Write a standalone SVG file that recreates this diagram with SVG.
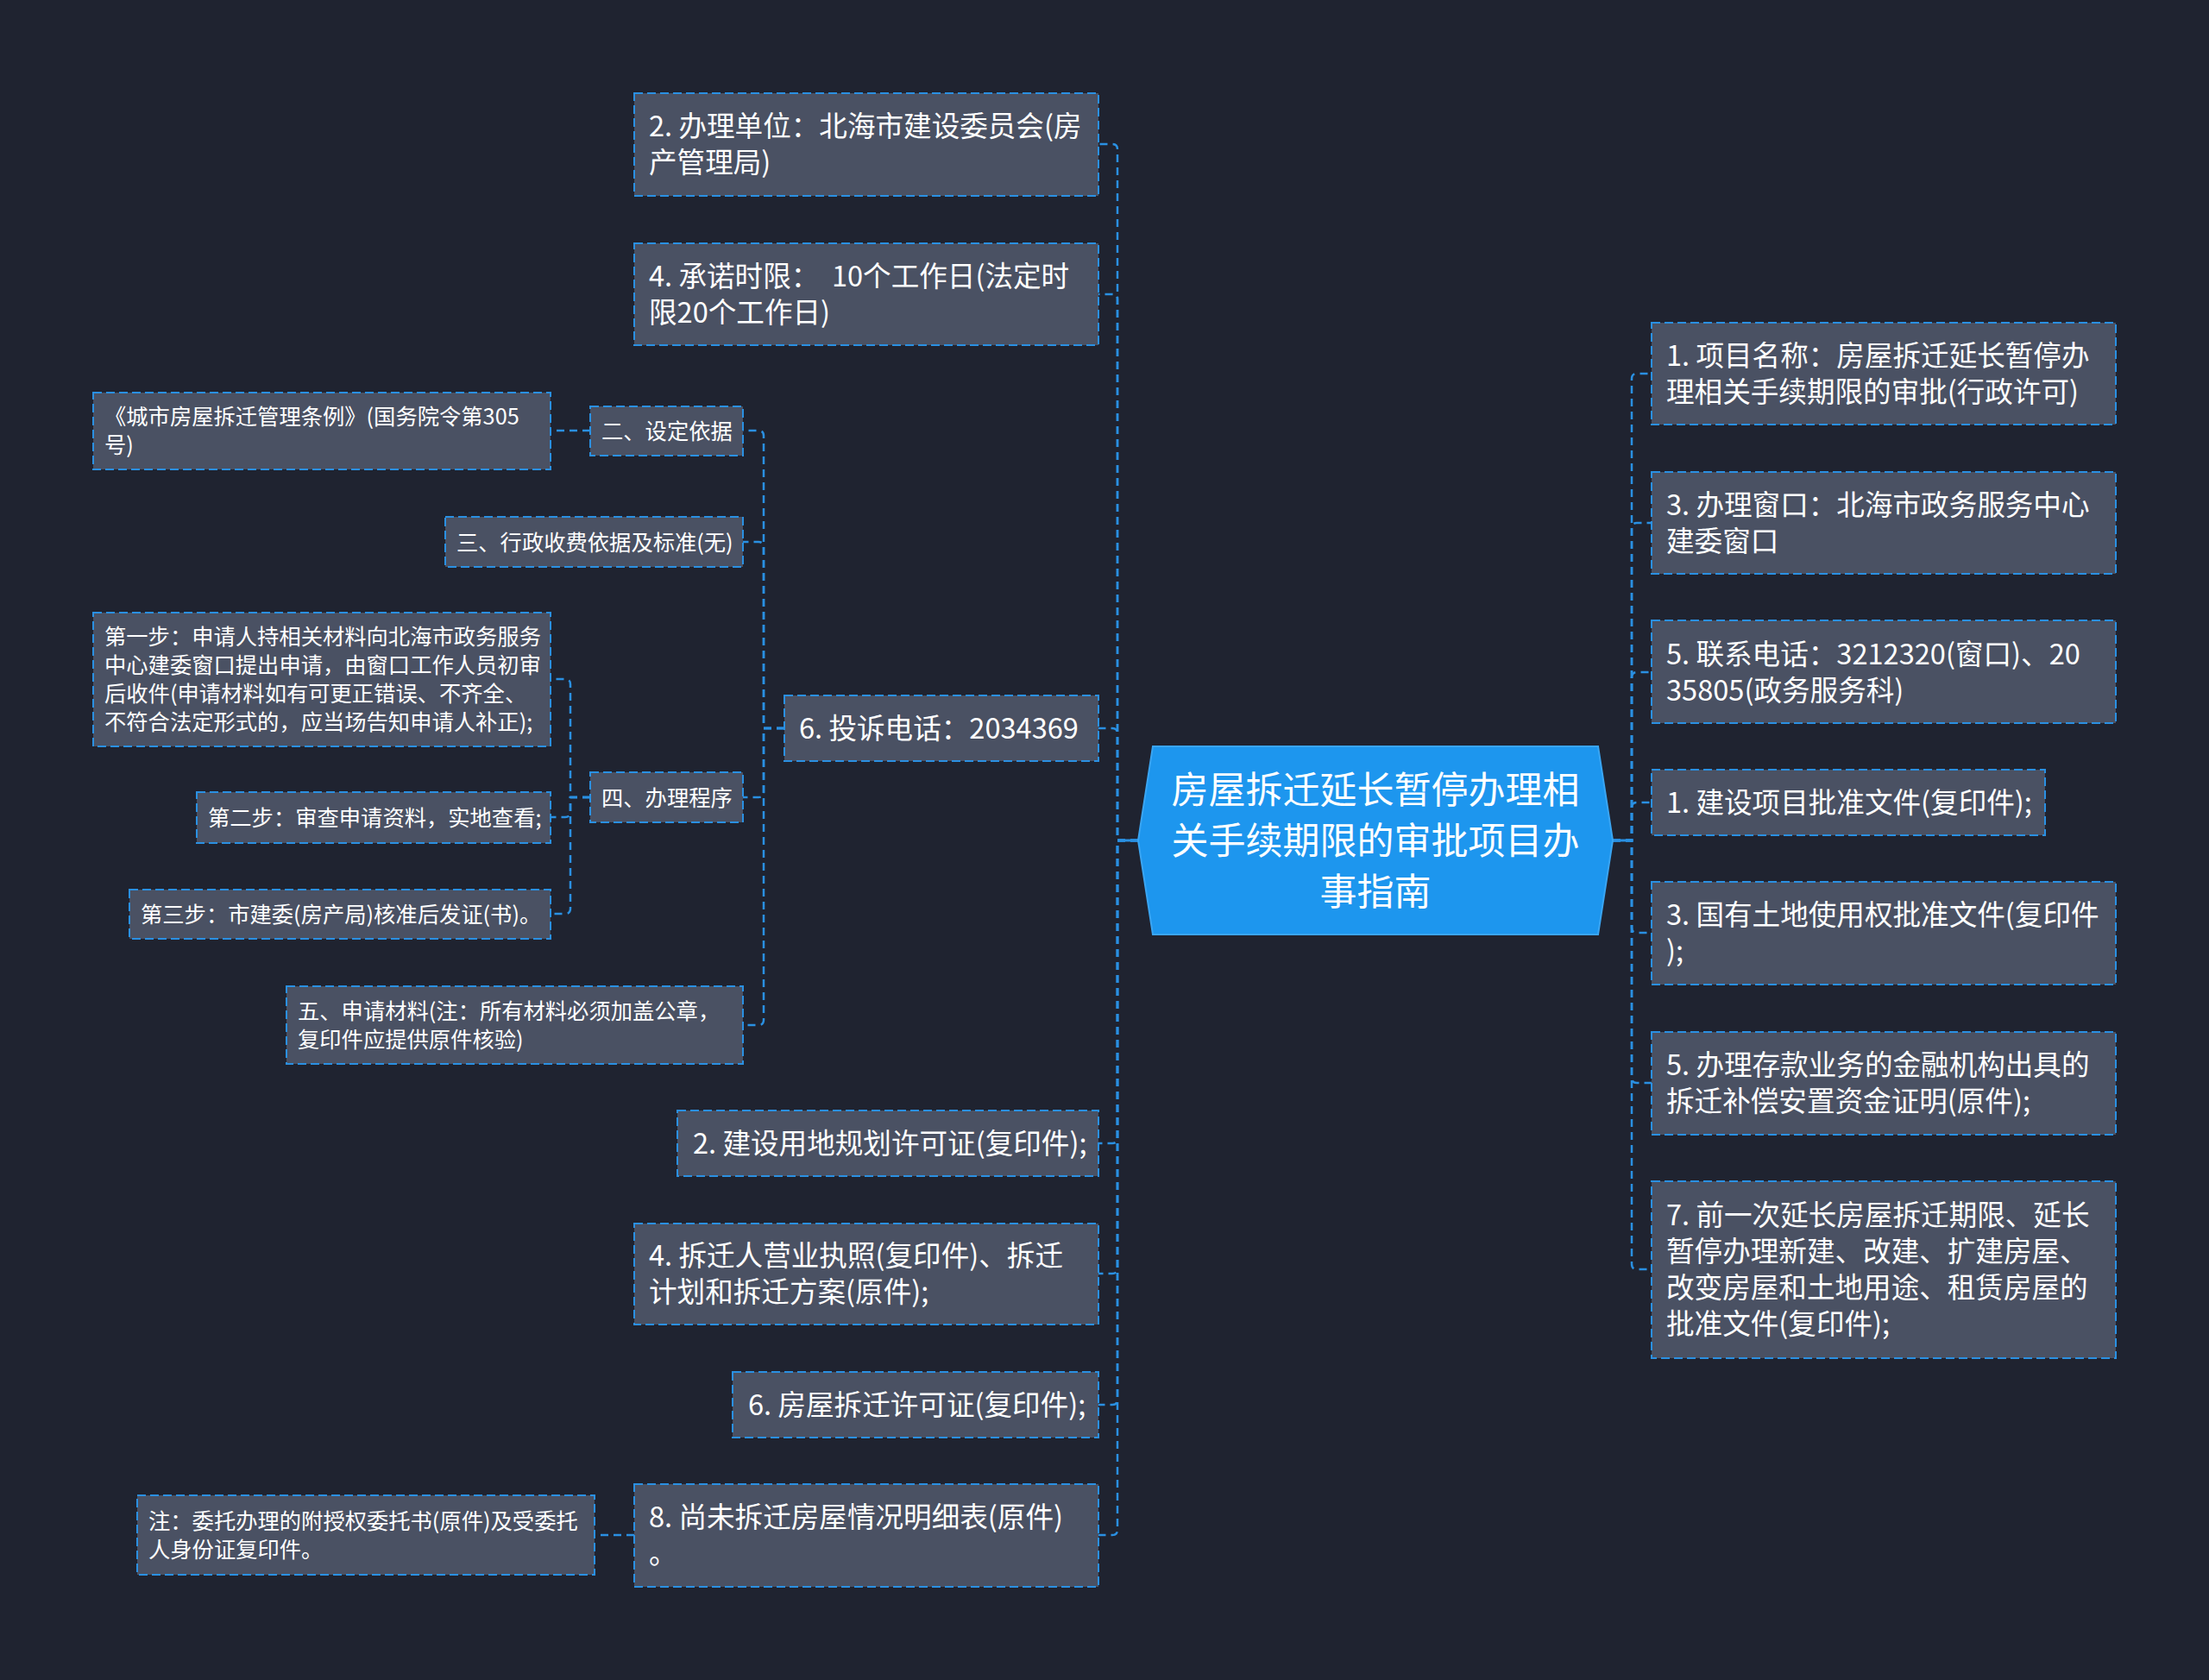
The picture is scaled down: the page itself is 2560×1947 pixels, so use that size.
<svg xmlns="http://www.w3.org/2000/svg" width="2560" height="1947" viewBox="0 0 2560 1947">
<style>
.bg{fill:#1f2330}
.box{fill:#4a5163;stroke:#2a90e2;stroke-width:2;stroke-dasharray:10 5}
.t{font-family:"Noto Sans CJK SC","Noto Sans",sans-serif;fill:#ffffff}
.big{font-size:32.6px}
.sm{font-size:25.3px}
.root{fill:#1d96ee;stroke:#3aa5f2;stroke-width:2}
.rt{font-family:"Noto Sans CJK SC","Noto Sans",sans-serif;fill:#ffffff;font-size:43px;text-anchor:middle}
.edge{fill:none;stroke:#2a90e2;stroke-width:2.5;stroke-dasharray:9 6}
.stem{fill:none;stroke:#2a90e2;stroke-width:3}
</style>
<rect class="bg" x="0" y="0" width="2560" height="1947"/>

<g id="connectors">
  <!-- root left spine -->
  <path class="edge" d="M1319,974 H1295 V173 Q1295,167 1289,167 H1273"/>
  <path class="edge" d="M1319,974 H1295 V347 Q1295,341 1289,341 H1273"/>
  <path class="edge" d="M1319,974 H1295 V850 Q1295,844 1289,844 H1273"/>
  <path class="edge" d="M1319,974 H1295 V1319 Q1295,1325 1289,1325 H1273"/>
  <path class="edge" d="M1319,974 H1295 V1470 Q1295,1476 1289,1476 H1273"/>
  <path class="edge" d="M1319,974 H1295 V1622 Q1295,1628 1289,1628 H1273"/>
  <path class="edge" d="M1319,974 H1295 V1773 Q1295,1779 1289,1779 H1273"/>
  <path class="stem" d="M1319,974 H1296"/>
  <!-- root right spine -->
  <path class="edge" d="M1869,974 H1891 V439 Q1891,433 1897,433 H1914"/>
  <path class="edge" d="M1869,974 H1891 V612 Q1891,606 1897,606 H1914"/>
  <path class="edge" d="M1869,974 H1891 V785 Q1891,779 1897,779 H1914"/>
  <path class="edge" d="M1869,974 H1891 V936 Q1891,930 1897,930 H1914"/>
  <path class="edge" d="M1869,974 H1891 V1075 Q1891,1081 1897,1081 H1914"/>
  <path class="edge" d="M1869,974 H1891 V1249 Q1891,1255 1897,1255 H1914"/>
  <path class="edge" d="M1869,974 H1891 V1465 Q1891,1471 1897,1471 H1914"/>
  <path class="stem" d="M1869,974 H1890"/>
  <!-- 6. 投诉电话 children -->
  <path class="edge" d="M909,844 H885 V505 Q885,499 879,499 H861"/>
  <path class="edge" d="M909,844 H885 V634 Q885,628 879,628 H861"/>
  <path class="edge" d="M909,844 H885 V918 Q885,924 879,924 H861"/>
  <path class="edge" d="M909,844 H885 V1182 Q885,1188 879,1188 H861"/>
  <!-- 二 -> 条例 -->
  <path class="edge" d="M684,499 H638"/>
  <!-- 四 children -->
  <path class="edge" d="M684,924 H661 V793 Q661,787 655,787 H638"/>
  <path class="edge" d="M684,924 H661 V941 Q661,947 655,947 H638"/>
  <path class="edge" d="M684,924 H661 V1053 Q661,1059 655,1059 H638"/>
  <!-- 8 -> 注 -->
  <path class="edge" d="M735,1779 H689"/>
</g>

<g id="root">
  <polygon class="root" points="1336,865 1852,865 1869,974 1852,1083 1336,1083 1319,974"/>
  <text class="rt"><tspan x="1594" y="931">房屋拆迁延长暂停办理相</tspan><tspan x="1594" y="990">关手续期限的审批项目办</tspan><tspan x="1594" y="1049">事指南</tspan></text>
</g>

<g id="r1"><rect class="box" x="1914" y="374" width="538" height="118"/>
<text class="t big"><tspan x="1931" y="424">1. 项目名称：房屋拆迁延长暂停办</tspan><tspan x="1931" y="466">理相关手续期限的审批(行政许可)</tspan></text></g>
<g id="r2"><rect class="box" x="1914" y="547" width="538" height="118"/>
<text class="t big"><tspan x="1931" y="597">3. 办理窗口：北海市政务服务中心</tspan><tspan x="1931" y="639">建委窗口</tspan></text></g>
<g id="r3"><rect class="box" x="1914" y="719" width="538" height="119"/>
<text class="t big"><tspan x="1931" y="770">5. 联系电话：3212320(窗口)、20</tspan><tspan x="1931" y="812">35805(政务服务科)</tspan></text></g>
<g id="r4"><rect class="box" x="1914" y="892" width="456" height="76"/>
<text class="t big"><tspan x="1931" y="942">1. 建设项目批准文件(复印件);</tspan></text></g>
<g id="r5"><rect class="box" x="1914" y="1022" width="538" height="119"/>
<text class="t big"><tspan x="1931" y="1072">3. 国有土地使用权批准文件(复印件</tspan><tspan x="1931" y="1114">);</tspan></text></g>
<g id="r6"><rect class="box" x="1914" y="1196" width="538" height="119"/>
<text class="t big"><tspan x="1931" y="1246">5. 办理存款业务的金融机构出具的</tspan><tspan x="1931" y="1288">拆迁补偿安置资金证明(原件);</tspan></text></g>
<g id="r7"><rect class="box" x="1914" y="1369" width="538" height="205"/>
<text class="t big"><tspan x="1931" y="1420">7. 前一次延长房屋拆迁期限、延长</tspan><tspan x="1931" y="1462">暂停办理新建、改建、扩建房屋、</tspan><tspan x="1931" y="1504">改变房屋和土地用途、租赁房屋的</tspan><tspan x="1931" y="1546">批准文件(复印件);</tspan></text></g>

<g id="l1"><rect class="box" x="735" y="108" width="538" height="119"/>
<text class="t big"><tspan x="752" y="158">2. 办理单位：北海市建设委员会(房</tspan><tspan x="752" y="200">产管理局)</tspan></text></g>
<g id="l2"><rect class="box" x="735" y="282" width="538" height="118"/>
<text class="t big" xml:space="preserve"><tspan x="752" y="332">4. 承诺时限：  10个工作日(法定时</tspan><tspan x="752" y="374">限20个工作日)</tspan></text></g>
<g id="l3"><rect class="box" x="909" y="806" width="364" height="76"/>
<text class="t big"><tspan x="926" y="856">6. 投诉电话：2034369</tspan></text></g>
<g id="l4"><rect class="box" x="785" y="1287" width="488" height="76"/>
<text class="t big"><tspan x="803" y="1337">2. 建设用地规划许可证(复印件);</tspan></text></g>
<g id="l5"><rect class="box" x="735" y="1418" width="538" height="117"/>
<text class="t big"><tspan x="752" y="1467">4. 拆迁人营业执照(复印件)、拆迁</tspan><tspan x="752" y="1509">计划和拆迁方案(原件);</tspan></text></g>
<g id="l6"><rect class="box" x="849" y="1590" width="424" height="76"/>
<text class="t big"><tspan x="867" y="1640">6. 房屋拆迁许可证(复印件);</tspan></text></g>
<g id="l7"><rect class="box" x="735" y="1720" width="538" height="119"/>
<text class="t big"><tspan x="752" y="1770">8. 尚未拆迁房屋情况明细表(原件)</tspan><tspan x="752" y="1812">。</tspan></text></g>

<g id="a1"><rect class="box" x="684" y="471" width="177" height="57"/>
<text class="t sm"><tspan x="697" y="509">二、设定依据</tspan></text></g>
<g id="a2"><rect class="box" x="516" y="599" width="345" height="58"/>
<text class="t sm"><tspan x="529" y="638">三、行政收费依据及标准(无)</tspan></text></g>
<g id="a3"><rect class="box" x="684" y="895" width="177" height="58"/>
<text class="t sm"><tspan x="697" y="934">四、办理程序</tspan></text></g>
<g id="a4"><rect class="box" x="332" y="1143" width="529" height="90"/>
<text class="t sm"><tspan x="345" y="1181">五、申请材料(注：所有材料必须加盖公章，</tspan><tspan x="345" y="1214">复印件应提供原件核验)</tspan></text></g>

<g id="b1"><rect class="box" x="108" y="455" width="530" height="89"/>
<text class="t sm"><tspan x="121" y="492">《城市房屋拆迁管理条例》(国务院令第305</tspan><tspan x="121" y="525">号)</tspan></text></g>
<g id="c1"><rect class="box" x="108" y="710" width="530" height="155"/>
<text class="t sm"><tspan x="121" y="747">第一步：申请人持相关材料向北海市政务服务</tspan><tspan x="121" y="780">中心建委窗口提出申请，由窗口工作人员初审</tspan><tspan x="121" y="813">后收件(申请材料如有可更正错误、不齐全、</tspan><tspan x="121" y="846">不符合法定形式的，应当场告知申请人补正);</tspan></text></g>
<g id="c2"><rect class="box" x="228" y="918" width="410" height="59"/>
<text class="t sm"><tspan x="241" y="957">第二步：审查申请资料，实地查看;</tspan></text></g>
<g id="c3"><rect class="box" x="150" y="1031" width="488" height="57"/>
<text class="t sm"><tspan x="163" y="1069">第三步：市建委(房产局)核准后发证(书)。</tspan></text></g>
<g id="d1"><rect class="box" x="159" y="1733" width="530" height="92"/>
<text class="t sm"><tspan x="172" y="1772">注：委托办理的附授权委托书(原件)及受委托</tspan><tspan x="172" y="1805">人身份证复印件。</tspan></text></g>
</svg>
